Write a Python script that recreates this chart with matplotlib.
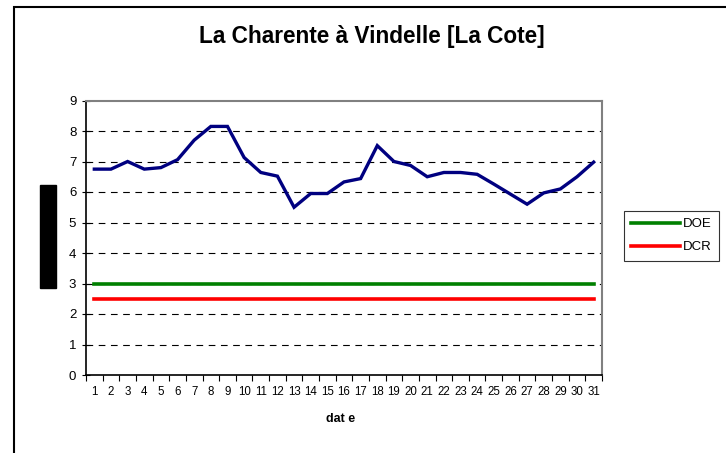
import numpy as np
import matplotlib.pyplot as plt
from matplotlib.patches import Rectangle

plt.rcParams['font.family'] = ['Liberation Sans', 'DejaVu Sans']

# ── données ──────────────────────────────────────────────────────────────
jours = np.arange(1, 32)
debit = [6.75, 6.75, 7.0, 6.75, 6.8, 7.06, 7.7, 8.15, 8.15, 7.13,
         6.64, 6.52, 5.5, 5.95, 5.95, 6.33, 6.44, 7.52, 7.0, 6.87,
         6.5, 6.64, 6.64, 6.58, 6.26, 5.93, 5.6, 5.97, 6.1, 6.5, 6.98]
doe = [3.0] * 31
dcr = [2.5] * 31
titre = "La Charente à Vindelle [La Cote]"

W, H = 726, 453
fig = plt.figure(figsize=(W / 100, H / 100), dpi=100)

# cadre extérieur
fig.patches.append(Rectangle((14 / W, -0.05), 1.2, 1 - 7 / H + 0.05,
                             transform=fig.transFigure, fill=False,
                             edgecolor="black", lw=1.5))
# bloc noir à gauche (étiquette masquée)
fig.patches.append(Rectangle((40 / W, 1 - 288 / H), 16 / W, 103 / H,
                             transform=fig.transFigure, color="black"))

ax = fig.add_axes([86 / W, 1 - 375 / H, (602 - 86) / W, (375 - 100.5) / H])

ax.plot(jours, debit, color="#000080", lw=2.4, solid_joinstyle="miter")
l1, = ax.plot(jours, doe, color="#008000", lw=2.6, label="DOE")
l2, = ax.plot(jours, dcr, color="#FF0000", lw=2.6, label="DCR")

ax.set_xlim(0.5, 31.5)
ax.set_ylim(0, 9)
ax.set_yticks(range(10))
for y in range(1, 9):
    ax.axhline(y, color="black", lw=0.8, dashes=(6, 5), zorder=0)

ax.set_xticks(jours)
ax.set_xticklabels([str(j) for j in jours])
ax.set_xticks(np.arange(0.5, 32, 1), minor=True)
ax.tick_params(axis="x", which="major", length=0, labelsize=8.3, pad=8)
ax.tick_params(axis="x", which="minor", length=4, direction="out", width=0.8)
ax.tick_params(axis="y", direction="inout", length=6, width=0.8, labelsize=9.5, pad=4)

ax.spines["left"].set_linewidth(1.2)
ax.spines["bottom"].set_linewidth(1.2)
for s in ("top", "right"):
    ax.spines[s].set_color("#808080")
    ax.spines[s].set_linewidth(1.5)

fig.text(372 / W, 1 - 37 / H, titre, ha="center", va="center",
         fontsize=16.3, fontweight="bold")
fig.text(341 / W, 1 - 419 / H, "dat e", ha="center", va="center",
         fontsize=9, fontweight="bold")

leg = fig.legend(handles=[l1, l2], loc="upper left",
                 bbox_to_anchor=(624 / W, 1 - 211 / H), frameon=True,
                 fancybox=False, edgecolor="black", fontsize=9.5,
                 handlelength=3.7, handletextpad=0.25, borderpad=0.55,
                 labelspacing=0.8, borderaxespad=0)
leg.get_frame().set_linewidth(0.8)

fig.savefig("out.png", dpi=100)
